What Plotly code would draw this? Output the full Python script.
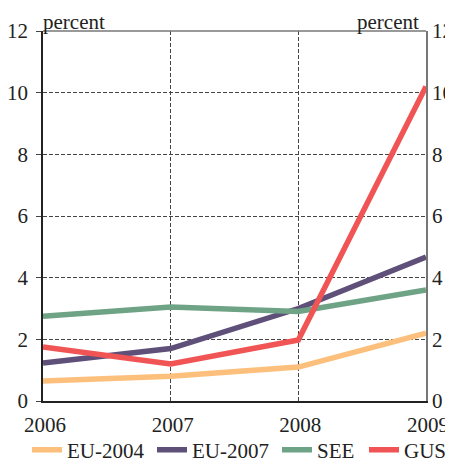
import plotly.graph_objects as go

years = [2006, 2007, 2008, 2009]
eu2004 = [0.65, 0.8, 1.1, 2.2]
eu2007 = [1.23, 1.7, 3.0, 4.67]
see = [2.75, 3.05, 2.9, 3.6]
gus = [1.75, 1.2, 1.98, 10.2]

names = ["EU-2004", "EU-2007", "SEE", "GUS"]
colors = ["#fdbf7c", "#5f5079", "#6fa385", "#f05454"]
series = [eu2004, eu2007, see, gus]

# page body has an 8px margin; work in window pixels and convert
OFF = 8
legend_x_win = [27, 152, 277, 364]
legend_y_win = 450

font = "Liberation Serif, Times New Roman, serif"
FS = 21
W, H = 453 - OFF, 464 - OFF
L, T = 43 - OFF, 31 - OFF
R = W - (426 - OFF)
B = H - (401 - OFF)
pw = W - L - R
ph = H - T - B

fig = go.Figure()
lg = {}
for i, (n, c, s) in enumerate(zip(names, colors, series)):
    key = "legend" if i == 0 else f"legend{i+1}"
    fig.add_trace(go.Scatter(x=years, y=s, name=n, mode="lines",
                             line=dict(color=c, width=5.5),
                             legend=key))
    lg[key] = dict(orientation="h", x=(legend_x_win[i] - OFF - L) / pw, xanchor="left",
                   y=(ph - (legend_y_win - OFF - T)) / ph, yanchor="middle",
                   font=dict(size=FS, family=font, color="#222"),
                   bgcolor="rgba(0,0,0,0)", borderwidth=0)
# invisible trace for right axis
fig.add_trace(go.Scatter(x=years, y=gus, yaxis="y2", showlegend=False,
                         line=dict(width=0), hoverinfo="skip", opacity=0))

GRID = dict(showgrid=True, gridcolor="#444", griddash="4px,2px", gridwidth=1)
fig.update_layout(
    width=W, height=H,
    margin=dict(l=L, r=R, t=T, b=B, autoexpand=False),
    paper_bgcolor="white", plot_bgcolor="white",
    font=dict(family=font, size=FS, color="#222"),
    showlegend=True,
    xaxis=dict(range=[2006, 2009], tickvals=years, **GRID,
               showline=True, linecolor="#222", linewidth=1.5,
               ticks="", zeroline=False, ticklabelstandoff=4,
               ticklabelshift=2),
    yaxis=dict(range=[0, 12], dtick=2, **GRID, showline=True, linecolor="#222",
               linewidth=1.5, ticks="outside", ticklen=5, tickcolor="#444",
               zeroline=False, ticklabelstandoff=4),
    yaxis2=dict(range=[0, 12], dtick=2, overlaying="y", side="right",
                showgrid=False, showline=True, linecolor="#777", linewidth=1.5,
                ticks="", zeroline=False, ticklabelstandoff=0),
    annotations=[
        dict(text="percent", x=0, xref="paper", y=1, yref="paper",
             xanchor="left", yanchor="bottom", showarrow=False,
             font=dict(size=FS, family=font), yshift=-5, xshift=-2),
        dict(text="percent", x=1, xref="paper", y=1, yref="paper",
             xanchor="right", yanchor="bottom", showarrow=False,
             font=dict(size=FS, family=font), yshift=-5, xshift=-5),
    ],
    shapes=[dict(type="line", xref="paper", yref="paper", x0=0, x1=1, y0=1, y1=1,
                 line=dict(color="#777", width=1.5))],
    **lg,
)
fig.write_html("out.html")
